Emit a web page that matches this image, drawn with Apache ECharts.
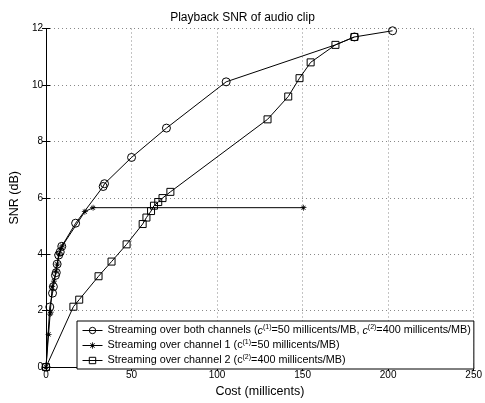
<!DOCTYPE html>
<html>
<head>
<meta charset="utf-8">
<script src="https://cdn.jsdelivr.net/npm/echarts@6/dist/echarts.min.js"></script>
<style>
  html, body { margin: 0; padding: 0; background: #fff; }
  #chart { width: 485px; height: 403px; }
</style>
</head>
<body>
<div id="chart"></div>
<script>
// values: [cost (millicents), SNR (dB)]
var bothChannels = [
  [0, 0], [2.2, 2.13], [3.8, 2.62], [4.3, 2.85], [5.5, 3.25], [6.0, 3.35],
  [6.5, 3.65], [7.4, 3.97], [8.3, 4.08], [9.2, 4.28], [17.3, 5.1],
  [33.4, 6.4], [34.2, 6.5], [50, 7.43], [70.4, 8.47], [105.3, 10.11],
  [169.2, 11.42], [180.3, 11.7], [202.6, 11.92]
];
var hiddenMarkerAt = 16; // this point sits under a square, no circle drawn there
var channel1 = [
  [0, 0], [1.5, 1.16], [2.4, 1.88], [2.8, 1.95], [3.6, 2.85], [4.6, 3.05],
  [5.8, 3.4], [6.6, 3.65], [7.6, 4.0], [8.6, 4.2], [9.6, 4.3],
  [22.7, 5.51], [27.5, 5.65], [150.5, 5.65]
];
var channel2 = [
  [0, 0], [16, 2.14], [19.4, 2.39], [30.7, 3.22], [38.3, 3.74], [47.1, 4.35],
  [56.5, 5.07], [58.7, 5.3], [61.4, 5.53], [63.1, 5.72], [65.6, 5.85],
  [68.1, 5.99], [72.7, 6.21], [129.5, 8.78], [141.6, 9.59], [148.2, 10.24],
  [154.7, 10.8], [169.2, 11.42], [180.3, 11.7]
];
var seriesNames = ['both', 'ch1', 'ch2'];
var legendLabels = {
  both: 'Streaming over both channels ({i|c}{s|(1)}=50 millicents/MB, {i|c}{s|(2)}=400 millicents/MB)',
  ch1: 'Streaming over channel 1 (c{s|(1)}=50 millicents/MB)',
  ch2: 'Streaming over channel 2 (c{s|(2)}=400 millicents/MB)'
};

var star = 'path://M4.4,0 L5.6,0 L5.6,10 L4.4,10 Z M0,4.4 L10,4.4 L10,5.6 L0,5.6 Z ' +
  'M1.2,2 L2,1.2 L8.8,8 L8,8.8 Z M8,1.2 L8.8,2 L2,8.8 L1.2,8 Z';

var font = 'Liberation Sans, Arial, sans-serif';

var chart = echarts.init(document.getElementById('chart'), null, { renderer: 'canvas' });

var hollow = { color: 'rgba(0,0,0,0)', borderColor: '#000', borderWidth: 1 };

var bothData = bothChannels.map(function (p, i) {
  if (i === hiddenMarkerAt) return { value: p, symbol: 'none' };
  return p;
});

var option = {
  animation: false,
  backgroundColor: '#fff',
  title: {
    text: 'Playback SNR of audio clip',
    left: 'center',
    top: 7,
    textStyle: { fontFamily: font, fontSize: 12, fontWeight: 'normal', color: '#000' }
  },
  grid: { left: 42.5, right: 6, top: 28.5, bottom: 31, containLabel: false },
  legend: {
    data: seriesNames,
    orient: 'vertical',
    left: 77,
    top: 321,
    padding: [3, 3, 3, 5],
    itemGap: 3,
    itemWidth: 20,
    itemHeight: 8,
    backgroundColor: '#fff',
    borderColor: '#000',
    borderWidth: 1,
    lineStyle: { width: 1, color: '#000' },
    itemStyle: { borderWidth: 1 },
    formatter: function (name) { return legendLabels[name]; },
    textStyle: {
      fontFamily: font, fontSize: 10.8, color: '#000',
      rich: {
        i: { fontFamily: font, fontSize: 10.8, fontStyle: 'italic', color: '#000' },
        s: { fontFamily: font, fontSize: 7, color: '#000', padding: [0, 0, 6, 0] }
      }
    }
  },
  xAxis: [{
    type: 'value', min: 0, max: 250, interval: 50,
    name: 'Cost (millicents)', nameLocation: 'middle', nameGap: 17,
    nameTextStyle: { fontFamily: font, fontSize: 12.5, color: '#000' },
    axisLine: { lineStyle: { color: '#000', width: 1 } },
    axisTick: { inside: true, length: 4, lineStyle: { color: '#000' } },
    axisLabel: { fontFamily: font, fontSize: 10, color: '#000', margin: 3 },
    splitLine: { show: true, lineStyle: { type: [1, 3], color: '#888', width: 1 } }
  }, {
    type: 'value', min: 0, max: 250, interval: 50, position: 'top',
    axisLine: { lineStyle: { color: '#000', width: 1 } },
    axisTick: { inside: true, length: 4, lineStyle: { color: '#000' } },
    axisLabel: { show: false }, splitLine: { show: false }
  }],
  yAxis: [{
    type: 'value', min: 0, max: 12, interval: 2,
    name: 'SNR (dB)', nameLocation: 'middle', nameGap: 19,
    nameTextStyle: { fontFamily: font, fontSize: 12.5, color: '#000' },
    axisLine: { show: true, lineStyle: { color: '#000', width: 1 } },
    axisTick: { show: true, inside: true, length: 4, lineStyle: { color: '#000' } },
    axisLabel: { fontFamily: font, fontSize: 10, color: '#000', margin: 3 },
    splitLine: { show: true, lineStyle: { type: [1, 3], color: '#888', width: 1 } }
  }, {
    type: 'value', min: 0, max: 12, interval: 2, position: 'right',
    axisLine: { show: true, lineStyle: { color: '#000', width: 1 } },
    axisTick: { show: true, inside: true, length: 4, lineStyle: { color: '#000' } },
    axisLabel: { show: false }, splitLine: { show: false }
  }],
  series: [{
    name: 'both', type: 'line', data: bothData,
    symbol: 'circle', symbolSize: 8,
    itemStyle: hollow,
    lineStyle: { color: '#000', width: 1 }
  }, {
    name: 'ch1', type: 'line', data: channel1,
    symbol: star, symbolSize: 6,
    itemStyle: { color: '#000' },
    lineStyle: { color: '#000', width: 1 }
  }, {
    name: 'ch2', type: 'line', data: channel2,
    symbol: 'rect', symbolSize: 7,
    itemStyle: hollow,
    lineStyle: { color: '#000', width: 1 }
  }]
};

chart.setOption(option);
</script>
</body>
</html>
